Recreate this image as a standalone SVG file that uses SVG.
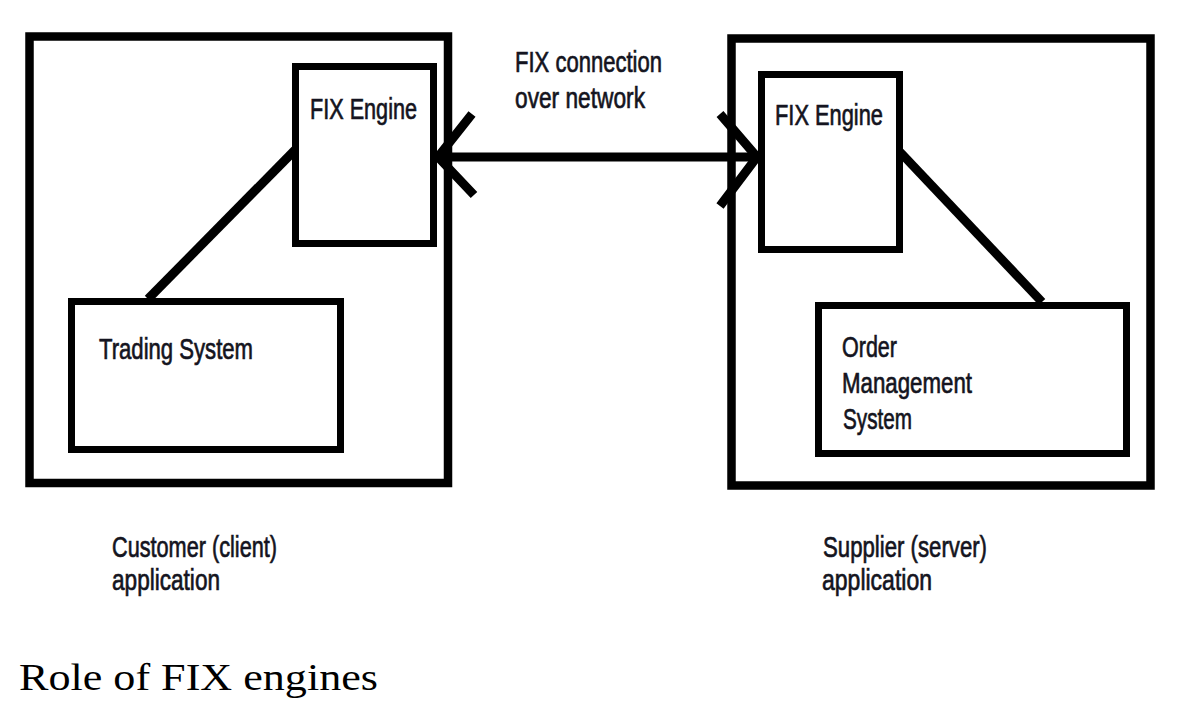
<svg xmlns="http://www.w3.org/2000/svg" width="1189" height="723" viewBox="0 0 1189 723">
<style>
.box{fill:none;stroke:#000;stroke-width:7}
.outer{fill:none;stroke:#000;stroke-width:8.5}
.lbl{font-family:"Liberation Sans Narrow","Liberation Sans",Arial,sans-serif;font-size:30px;fill:#141420;stroke:#141420;stroke-width:0.7}
.conn{stroke:#000;stroke-width:9;fill:none}
.title{font-family:"Liberation Serif","Times New Roman",serif;font-size:37px;fill:#000}
</style>
<rect width="1189" height="723" fill="#fff"/>
<g id="client-app">
<rect class="outer" x="29.5" y="36.5" width="418.5" height="446.5"/>
</g>
<g id="server-app">
<rect class="outer" x="731.5" y="38.5" width="419" height="447"/>
</g>
<g id="connectors">
<line class="conn" x1="148" y1="299" x2="295" y2="150"/>
<line class="conn" x1="900" y1="152" x2="1042" y2="302"/>
<line class="conn" x1="437" y1="157" x2="760" y2="157" stroke-width="10"/>
<polyline class="conn" points="472,114 438,157 474,195"/>
<polyline class="conn" points="720,114 757,157 720,206"/>
</g>
<g id="fix-engine-client">
<rect class="box" x="295.5" y="66.5" width="138" height="177"/>
<text class="lbl" x="310" y="119" textLength="107" lengthAdjust="spacingAndGlyphs">FIX Engine</text>
</g>
<g id="trading-system">
<rect class="box" x="71.5" y="301.5" width="269" height="148"/>
<text class="lbl" x="99" y="359" textLength="154" lengthAdjust="spacingAndGlyphs">Trading System</text>
</g>
<g id="fix-engine-server">
<rect class="box" x="761.5" y="74.5" width="138" height="175"/>
<text class="lbl" x="775" y="125" textLength="108" lengthAdjust="spacingAndGlyphs">FIX Engine</text>
</g>
<g id="order-management-system">
<rect class="box" x="818.5" y="305.5" width="308" height="148"/>
<text class="lbl" x="842" y="357" textLength="55" lengthAdjust="spacingAndGlyphs">Order</text>
<text class="lbl" x="842" y="393" textLength="130" lengthAdjust="spacingAndGlyphs">Management</text>
<text class="lbl" x="843" y="429" textLength="69" lengthAdjust="spacingAndGlyphs">System</text>
</g>
<g id="connection-label">
<text class="lbl" x="515" y="72" textLength="147" lengthAdjust="spacingAndGlyphs">FIX connection</text>
<text class="lbl" x="515" y="108" textLength="130" lengthAdjust="spacingAndGlyphs">over network</text>
</g>
<g id="client-caption">
<text class="lbl" x="112" y="557" textLength="165" lengthAdjust="spacingAndGlyphs">Customer (client)</text>
<text class="lbl" x="112" y="590" textLength="108" lengthAdjust="spacingAndGlyphs">application</text>
</g>
<g id="server-caption">
<text class="lbl" x="823" y="557" textLength="164" lengthAdjust="spacingAndGlyphs">Supplier (server)</text>
<text class="lbl" x="822" y="590" textLength="110" lengthAdjust="spacingAndGlyphs">application</text>
</g>
<text class="title" x="19" y="690" textLength="359" lengthAdjust="spacingAndGlyphs">Role of FIX engines</text>
</svg>
